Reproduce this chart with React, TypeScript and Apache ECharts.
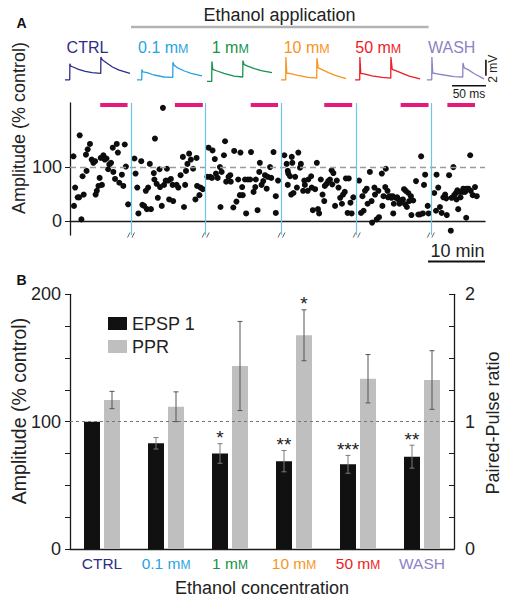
import { useEffect, useRef } from "react";
import * as echarts from "echarts";

const FONT = "'Liberation Sans', Arial, Helvetica, sans-serif";

// ---------- shared categories ----------
const conditions = ["CTRL", "0.1 mM", "1 mM", "10 mM", "50 mM", "WASH"];
const conditionColors = ["#2e2d88", "#27a4df", "#16924a", "#f7941d", "#ed1c24", "#8c84c4"];

// ---------- Panel A: amplitude over time ([minutes, % control]) ----------
const ctrlPts = [[0.6,120],[1.7,159],[0.9,62],[0.7,28],[1.35,44],[1.6,44],[2.0,3],[2.2,83],[2.4,49],[2.9,93],[2.8,123],[3.1,133],[3.5,143],[3.8,114],[4.1,108],[4.4,111],[4.5,49],[4.7,56],[5.0,65],[5.2,80],[5.6,67],[5.4,117],[5.85,122],[6.1,114],[6.4,116],[6.7,96],[6.9,105],[7.2,108],[7.5,136],[7.6,91],[7.9,78],[8.2,143],[8.4,127],[8.65,71],[9.1,86],[9.35,65],[9.6,142],[9.8,101],[10.2,31]];
const mM01Pts = [[11.3,116],[12.5,111],[11.5,88],[11.8,62],[12.0,14],[12.7,30],[13.0,28],[13.3,56],[13.5,22],[13.7,62],[14.0,106],[14.2,22],[14.7,89],[14.8,77],[14.9,153],[15.2,69],[15.4,43],[15.7,96],[15.8,63],[16.1,28],[16.3,210],[16.5,67],[17.0,97],[16.8,75],[17.25,75],[17.7,78],[17.4,40],[18.1,37],[18.0,67],[18.7,67],[19.0,62],[19.4,85],[19.8,119],[20.0,26],[20.2,67],[20.35,93],[20.6,106],[20.9,125],[21.2,114],[21.6,97],[22.0,40],[22.2,117],[22.3,65],[22.7,48],[22.9,62],[23.3,59]];
const mM1Pts = [[24.3,136],[25.0,131],[25.4,115],[24.1,82],[24.6,82],[24.9,80],[25.6,88],[25.9,80],[26.3,100],[26.6,91],[27.0,122],[27.2,148],[26.4,26],[27.4,73],[27.8,82],[28.1,85],[28.2,73],[28.65,25],[28.8,130],[29.2,36],[29.5,77],[29.8,48],[29.9,127],[30.3,48],[30.2,63],[30.7,77],[30.9,14],[31.2,77],[31.6,77],[31.75,128],[32.2,54],[32.5,63],[32.6,77],[32.9,20],[33.2,91],[33.3,108],[33.6,67],[33.9,74],[34.2,85],[34.5,60],[34.7,82],[35.1,100],[35.3,80],[35.7,128],[36.1,15],[36.5,75],[36.1,46]];
const mM10Pts = [[37.6,122],[38.0,106],[38.2,93],[38.9,119],[39.0,108],[40.05,127],[40.5,106],[40.35,99],[38.3,88],[38.6,83],[39.5,82],[38.2,67],[38.8,49],[39.2,52],[39.8,62],[41.1,75],[41.2,67],[40.9,56],[41.7,56],[41.8,77],[42.3,83],[42.4,62],[42.6,20],[43.0,59],[43.3,108],[43.5,22],[43.7,14],[44.0,77],[44.3,49],[44.6,37],[44.7,65],[45.0,69],[45.3,74],[45.6,77],[45.9,94],[46.2,89],[46.0,68],[46.5,28],[46.8,75],[47.1,62],[47.4,43],[47.7,32],[47.9,49],[48.2,54],[48.4,79],[48.7,15],[48.9,79],[49.2,34],[49.4,14],[49.7,44]];
const mM50Pts = [[50.7,75],[51.3,46],[51.05,15],[51.5,19],[51.75,56],[52.05,60],[52.2,32],[52.6,91],[52.9,37],[53.0,-3],[53.4,62],[53.5,49],[53.8,3],[54.1,56],[54.2,7],[54.7,88],[55.0,46],[54.8,28],[55.4,97],[55.3,63],[55.7,56],[55.8,44],[56.1,46],[56.4,43],[56.6,46],[56.8,32],[56.7,14],[57.2,43],[57.4,44],[57.6,40],[57.8,32],[58.0,36],[58.4,40],[58.6,59],[58.8,31],[58.9,56],[59.1,26],[59.35,52],[59.5,37],[59.8,46],[59.9,11],[60.2,38],[60.7,74],[61.1,12],[61.4,12],[61.6,120],[61.9,14],[62.1,67],[62.3,86],[62.75,28],[62.9,14]];
const washPts = [[63.9,52],[64.3,86],[64.6,62],[64.2,19],[64.9,26],[65.2,15],[65.5,44],[65.8,49],[66.1,11],[66.0,42],[66.5,85],[66.95,43],[67.25,100],[67.4,48],[67.7,52],[67.8,40],[67.95,57],[68.1,22],[68.4,54],[68.5,44],[68.9,54],[69.0,60],[69.3,54],[69.5,6],[69.6,60],[69.9,60],[70.2,122],[70.3,56],[70.65,48],[71.05,63],[71.35,46],[66.8,-18]];
const segmentBreaks = [10.7, 23.8, 37.1, 50.3, 63.3];
const pinkStart = [5.3, 18.4, 31.7, 44.6, 58.0, 66.2];
const pinkEnd = [10.1, 23.3, 36.5, 49.5, 62.9, 71.05];
const pinkLevel = 216;
const timeMax = 72.8;
const ethanolStart = 10.7;
const ethanolEnd = 62.9;
const scaleMinutes = 10;

// ---------- Panel A: example traces ([ms, mV]) ----------
const traceCtrl = [[0,0],[7,0],[7.2,2.0],[8.5,1.7],[12,1.6],[20,1.3],[30,1.05],[40,0.9],[52.8,0.8],[53,2.85],[55,2.5],[60,2.2],[70,1.6],[80,1.2],[96,0.8]];
const trace01 = [[0,0],[7,0],[7.2,1.3],[8.5,1.0],[15,0.9],[25,0.6],[40,0.35],[52.8,0.3],[53,2.2],[55,1.8],[60,1.5],[70,1.1],[80,0.8],[96,0.5]];
const trace1 = [[0,-0.2],[7,-0.2],[7.2,2.3],[8.5,1.3],[15,1.1],[25,0.8],[40,0.45],[52.8,0.35],[53,2.4],[55,1.9],[60,1.7],[70,1.4],[80,1.15],[96,0.9]];
const trace10 = [[0,0],[7,0],[7.2,2.85],[8.5,0.85],[15,0.75],[25,0.55],[40,0.3],[52.8,0.2],[53,2.7],[55,1.5],[60,1.3],[70,0.9],[80,0.55],[96,0.15]];
const trace50 = [[0,0],[7,0],[7.2,2.85],[8.5,0.8],[15,0.7],[25,0.5],[40,0.3],[52.8,0.2],[53,2.85],[55,1.3],[60,1.15],[70,0.8],[80,0.45],[96,0.12]];
const traceWash = [[0,0],[7,0],[7.2,2.85],[8.5,0.85],[15,0.75],[25,0.6],[40,0.4],[52.8,0.35],[53,2.1],[55,1.5],[60,1.3],[70,0.75],[84,0.12]];
const traces = [traceCtrl, trace01, trace1, trace10, trace50, traceWash];
const scaleMs = 50;
const scaleMv = 2;

// ---------- Panel B: summary ----------
const epsp = [100, 83, 75, 69, 66.5, 72.5];
const epspErr = [0, 4.5, 7.7, 8.4, 7, 9];
const ppr = [1.17, 1.117, 1.437, 1.678, 1.337, 1.327];
const pprErr = [0.068, 0.117, 0.35, 0.2, 0.19, 0.23];
const epspSig = ["", "", "*", "**", "***", "**"];
const pprSig = ["", "", "", "*", "", ""];

const BAR_W = 16;
const BAR_GAP = 4;

function condRich(name: string, i: number) {
  if (name.endsWith("mM")) return `{c${i}|${name.slice(0, -1)}}{s${i}|M}`;
  return `{c${i}|${name}}`;
}

function errRender(offset: number, color: string, sig: string[]) {
  return (params: any, api: any) => {
    const i = params.dataIndex;
    const v = api.value(1);
    const e = api.value(2);
    const top = api.coord([i, v + e]);
    const bot = api.coord([i, v - e]);
    const x = top[0] + offset;
    const children: any[] = [];
    if (e > 0) {
      const st = { stroke: color, lineWidth: 1 };
      children.push({ type: "line", shape: { x1: x, y1: top[1], x2: x, y2: bot[1] }, style: st });
      children.push({ type: "line", shape: { x1: x - 2.5, y1: top[1], x2: x + 2.5, y2: top[1] }, style: st });
      children.push({ type: "line", shape: { x1: x - 2.5, y1: bot[1], x2: x + 2.5, y2: bot[1] }, style: st });
    }
    if (sig[i]) {
      children.push({
        type: "text", x, y: top[1] - 6,
        style: { text: sig[i], align: "center", verticalAlign: "middle", fontSize: 19, fontFamily: FONT, fill: "#1a1a1a" },
      });
    }
    return { type: "group", children };
  };
}

const traceLefts = [65, 137, 207, 281, 355, 427];
const traceLabelX = [87.5, 163.3, 230.3, 306.7, 378.3, 451.7];

export default function App() {
  const ref = useRef<HTMLDivElement>(null);
  useEffect(() => {
    const chart = echarts.init(ref.current!, null, { renderer: "svg" });
    const richB: any = {};
    conditionColors.forEach((c, i) => {
      richB[`c${i}`] = { color: c, fontSize: 15.5, fontFamily: FONT, lineHeight: 18, verticalAlign: "bottom" };
      richB[`s${i}`] = { color: c, fontSize: 12, fontFamily: FONT, lineHeight: 18, verticalAlign: "bottom" };
    });

    const grids: any[] = [{ left: 70, top: 103, width: 415, height: 132 }];
    traceLefts.forEach((l) => grids.push({ left: l, top: 55, width: 65, height: 27.2 }));
    grids.push({ left: 70, top: 294.3, width: 384, height: 254.7 });

    const xAxes: any[] = [
      {
        gridIndex: 0, type: "value", min: 0, max: timeMax,
        axisLine: { show: true, lineStyle: { color: "#1a1a1a", width: 1.3 } },
        axisTick: { show: false }, axisLabel: { show: false }, splitLine: { show: false },
      },
    ];
    const yAxes: any[] = [
      {
        gridIndex: 0, type: "value", min: -26, max: 219,
        axisLine: { show: true, lineStyle: { color: "#1a1a1a", width: 1.3 } },
        axisTick: { show: true, length: 5, customValues: [0, 100], lineStyle: { color: "#1a1a1a" } },
        axisLabel: { customValues: [0, 100], fontSize: 18, fontFamily: FONT, color: "#222", margin: 8 },
        splitLine: { show: false },
      },
    ];
    traces.forEach((_, k) => {
      xAxes.push({ gridIndex: k + 1, type: "value", min: 0, max: 96, show: false });
      yAxes.push({ gridIndex: k + 1, type: "value", min: -0.3, max: 3.1, show: false });
    });
    xAxes.push({
      gridIndex: 7, type: "category", data: conditions,
      axisLine: { show: true, lineStyle: { color: "#1a1a1a", width: 1.3 } },
      axisTick: { show: false },
      axisLabel: { interval: 0, formatter: (v: string, i: number) => condRich(v, i), rich: richB, margin: 4 },
      name: "Ethanol concentration", nameLocation: "middle", nameGap: 30,
      nameTextStyle: { fontSize: 18, fontFamily: FONT, color: "#222" },
    });
    yAxes.push({
      gridIndex: 7, type: "value", min: 0, max: 200, interval: 25, position: "left",
      axisLine: { show: true, lineStyle: { color: "#1a1a1a", width: 1.3 } },
      axisTick: { show: true, length: 5, lineStyle: { color: "#1a1a1a" } },
      axisLabel: { customValues: [0, 100, 200], fontSize: 18, fontFamily: FONT, color: "#222", margin: 9 },
      splitLine: { show: false },
    });
    yAxes.push({
      gridIndex: 7, type: "value", min: 0, max: 2, interval: 0.25, position: "right",
      axisLine: { show: true, lineStyle: { color: "#1a1a1a", width: 1.3 } },
      axisTick: { show: true, inside: true, length: 5, lineStyle: { color: "#1a1a1a" } },
      axisLabel: { customValues: [0, 1, 2], fontSize: 18, fontFamily: FONT, color: "#222", margin: 11 },
      splitLine: { show: false },
    });

    const allPts = [...ctrlPts, ...mM01Pts, ...mM1Pts, ...mM10Pts, ...mM50Pts, ...washPts];

    const series: any[] = [
      {
        type: "scatter", xAxisIndex: 0, yAxisIndex: 0, data: allPts, symbolSize: 6,
        itemStyle: { color: "#0d0d0d", opacity: 1 }, z: 3,
        markLine: {
          silent: true, symbol: "none", label: { show: false }, animation: false,
          data: [
            { yAxis: 100, lineStyle: { color: "#9a9a9a", type: [6, 4], width: 1.4 } },
            ...segmentBreaks.map((t) => ({ xAxis: t, lineStyle: { color: "#6cc5ea", type: "solid", width: 1.2 } })),
            ...pinkStart.map((s, i) => [
              { coord: [s, pinkLevel], lineStyle: { color: "#e6197b", type: "solid", width: 4 } },
              { coord: [pinkEnd[i], pinkLevel] },
            ]),
          ],
        },
      },
      {
        type: "custom", xAxisIndex: 0, yAxisIndex: 0, z: 4, silent: true,
        data: segmentBreaks.map((t) => [t, -26]),
        renderItem: (params: any, api: any) => {
          const p = api.coord([api.value(0), api.value(1)]);
          return {
            type: "group",
            children: [
              { type: "rect", shape: { x: p[0] - 4.5, y: p[1] - 2, width: 9, height: 4 }, style: { fill: "#fff" } },
              { type: "line", shape: { x1: p[0] - 3.5, y1: p[1] + 2.5, x2: p[0] - 1, y2: p[1] - 2.5 }, style: { stroke: "#555", lineWidth: 0.9 } },
              { type: "line", shape: { x1: p[0] + 1, y1: p[1] + 2.5, x2: p[0] + 3.5, y2: p[1] - 2.5 }, style: { stroke: "#555", lineWidth: 0.9 } },
            ],
          };
        },
      },
    ];
    traces.forEach((tr, k) => {
      series.push({
        type: "line", xAxisIndex: k + 1, yAxisIndex: k + 1, data: tr, showSymbol: false,
        lineStyle: { color: conditionColors[k], width: 1.3 }, silent: true,
      });
    });
    series.push({
      name: "EPSP 1", type: "bar", xAxisIndex: 7, yAxisIndex: 7, data: epsp, barWidth: BAR_W, barGap: "25%",
      itemStyle: { color: "#111" },
      markLine: {
        silent: true, symbol: "none", label: { show: false }, animation: false,
        data: [{ yAxis: 100 }], lineStyle: { color: "#777", type: [3, 3], width: 1 },
      },
    });
    series.push({
      name: "PPR", type: "bar", xAxisIndex: 7, yAxisIndex: 8, data: ppr, barWidth: BAR_W, barGap: "25%",
      itemStyle: { color: "#bfbfbf" },
    });
    series.push({
      type: "custom", xAxisIndex: 7, yAxisIndex: 7, z: 5, silent: true,
      data: epsp.map((v, i) => [i, v, epspErr[i]]),
      renderItem: errRender(-(BAR_W + BAR_GAP) / 2, "#7a7a7a", epspSig),
    });
    series.push({
      type: "custom", xAxisIndex: 7, yAxisIndex: 8, z: 5, silent: true,
      data: ppr.map((v, i) => [i, v, pprErr[i]]),
      renderItem: errRender((BAR_W + BAR_GAP) / 2, "#555", pprSig),
    });

    chart.setOption({
      animation: false,
      backgroundColor: "#fff",
      textStyle: { fontFamily: FONT },
      grid: grids,
      xAxis: xAxes,
      yAxis: yAxes,
      legend: {
        data: ["EPSP 1", "PPR"], orient: "vertical", left: 103, top: 309.5,
        itemWidth: 19, itemHeight: 13, itemGap: 5, icon: "rect",
        textStyle: { fontSize: 18, fontFamily: FONT, color: "#222" },
      },
      series,
    });

    const px = (finder: any, v: number[]) => chart.convertToPixel(finder, v) as unknown as number[];
    const eStart = px({ gridIndex: 0 }, [ethanolStart, 0]);
    const eEnd = px({ gridIndex: 0 }, [ethanolEnd, 0]);
    const minA = px({ gridIndex: 0 }, [timeMax - scaleMinutes, -26]);
    const minB = px({ gridIndex: 0 }, [timeMax, -26]);
    const vTop = px({ gridIndex: 6 }, [87, 2.5]);
    const vBot = px({ gridIndex: 6 }, [87, 2.5 - scaleMv]);
    const hA = px({ gridIndex: 6 }, [87 - scaleMs, -0.75]);
    const hB = px({ gridIndex: 6 }, [87, -0.75]);

    const graphic: any[] = [
      { type: "text", x: 16.5, y: 16, style: { text: "A", font: `bold 14px ${FONT}`, fill: "#111", verticalAlign: "top" } },
      { type: "text", x: 16.5, y: 273, style: { text: "B", font: `bold 14px ${FONT}`, fill: "#111", verticalAlign: "top" } },
      { type: "text", x: 279.5, y: 15, style: { text: "Ethanol application", font: `18px ${FONT}`, fill: "#222", align: "center", verticalAlign: "middle" } },
      { type: "line", shape: { x1: eStart[0], y1: 27, x2: eEnd[0], y2: 27 }, style: { stroke: "#b3b3b3", lineWidth: 2.5 } },
      ...conditions.map((c, i) => {
        const rich: any = {
          c: { fill: conditionColors[i], fontSize: 16, fontFamily: FONT, lineHeight: 18, verticalAlign: "bottom" },
          s: { fill: conditionColors[i], fontSize: 12.5, fontFamily: FONT, lineHeight: 18, verticalAlign: "bottom" },
        };
        const txt = c.endsWith("mM") ? `{c|${c.slice(0, -1)}}{s|M}` : `{c|${c}}`;
        return { type: "text", x: traceLabelX[i], y: 46, style: { text: txt, rich, align: "center", verticalAlign: "middle" } };
      }),
      { type: "line", shape: { x1: vTop[0], y1: vTop[1], x2: vBot[0], y2: vBot[1] }, style: { stroke: "#111", lineWidth: 1.6 } },
      { type: "text", x: vTop[0] + 7, y: (vTop[1] + vBot[1]) / 2 + 1, rotation: Math.PI / 2, style: { text: `${scaleMv} mV`, font: `12px ${FONT}`, fill: "#222", align: "center", verticalAlign: "middle" } },
      { type: "line", shape: { x1: hA[0], y1: hA[1], x2: hB[0], y2: hB[1] }, style: { stroke: "#111", lineWidth: 1.6 } },
      { type: "text", x: (hA[0] + hB[0]) / 2, y: hA[1] + 8.5, style: { text: `${scaleMs} ms`, font: `12px ${FONT}`, fill: "#222", align: "center", verticalAlign: "middle" } },
      { type: "line", shape: { x1: minA[0], y1: minA[1] + 26.5, x2: minB[0], y2: minB[1] + 26.5 }, style: { stroke: "#111", lineWidth: 1.8 } },
      { type: "text", x: (minA[0] + minB[0]) / 2 + 1, y: minA[1] + 16, style: { text: `${scaleMinutes} min`, font: `18px ${FONT}`, fill: "#222", align: "center", verticalAlign: "middle" } },
      { type: "text", x: 19, y: 128, rotation: Math.PI / 2, style: { text: "Amplitude (% control)", font: `18px ${FONT}`, fill: "#222", align: "center", verticalAlign: "middle" } },
      { type: "text", x: 19, y: 411, rotation: Math.PI / 2, style: { text: "Amplitude (% control)", font: `19.5px ${FONT}`, fill: "#222", align: "center", verticalAlign: "middle" } },
      { type: "text", x: 493, y: 423, rotation: Math.PI / 2, style: { text: "Paired-Pulse ratio", font: `18px ${FONT}`, fill: "#222", align: "center", verticalAlign: "middle" } },
    ];
    chart.setOption({ graphic });
    return () => chart.dispose();
  }, []);
  return <div ref={ref} style={{ position: "absolute", left: 0, top: 0, width: 506, height: 601 }} />;
}
